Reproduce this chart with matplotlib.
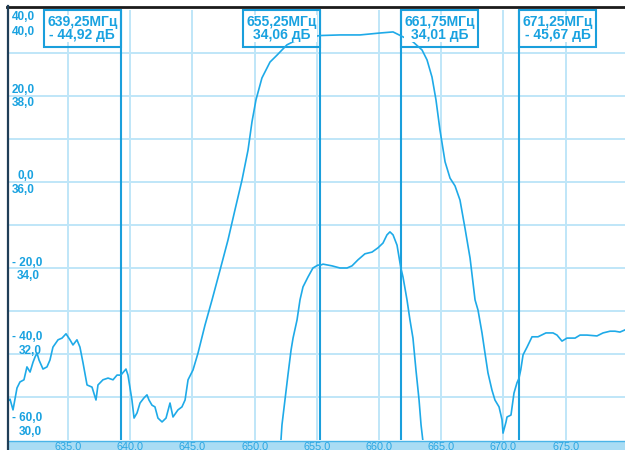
import matplotlib
matplotlib.use("Agg")
import matplotlib.pyplot as plt
import matplotlib.transforms as mtransforms
from matplotlib.patches import Rectangle
from matplotlib.lines import Line2D

# ---------------------------------------------------------------------------
# Measured data
# ---------------------------------------------------------------------------
# Wideband response, 10 dB/div (upper figures of the left scale)
wide_mhz = [630.26, 630.34, 630.58, 630.90, 631.14, 631.46, 631.70, 631.95, 632.19, 632.35,
            632.51, 632.67, 632.99, 633.31, 633.55, 633.79, 634.20, 634.52, 634.84, 635.16,
            635.40, 635.72, 635.96, 636.21, 636.53, 636.93, 637.25, 637.41, 637.81, 638.22,
            638.62, 638.94, 639.25, 639.66, 639.82, 640.14, 640.31, 640.55, 640.79, 641.11,
            641.35, 641.51, 641.75, 641.99, 642.23, 642.56, 642.88, 643.20, 643.44, 643.84,
            644.16, 644.41, 644.65, 645.05, 645.45, 646.01, 646.58, 647.22, 647.86, 648.42,
            648.99, 649.47, 649.79, 650.11, 650.59, 651.24, 651.80, 652.60, 653.09, 654.05,
            655.25, 656.86, 658.47, 660.08, 661.13, 661.75, 662.73, 663.46, 663.86, 664.26,
            664.58, 664.90, 665.31, 665.71, 666.11, 666.51, 666.91, 667.32, 667.72, 667.96,
            668.28, 668.52, 668.76, 669.08, 669.32, 669.65, 669.89, 669.97, 670.21, 670.29,
            670.61, 670.85, 671.09, 671.25, 671.40, 671.58, 671.90, 672.30, 672.78, 673.42,
            673.99, 674.31, 674.71, 675.11, 675.76, 676.16, 676.72, 677.52, 678.01, 678.57,
            678.97, 679.37, 679.77]
wide_db = [-50.7, -50.5, -53.0, -47.9, -46.5, -46.0, -43.0, -44.2, -41.9, -40.7,
           -39.8, -41.4, -43.5, -43.0, -41.4, -38.4, -36.7, -36.3, -35.3, -36.7,
           -37.9, -36.7, -38.4, -42.1, -47.2, -47.7, -50.7, -47.2, -46.0, -45.6,
           -46.0, -44.9, -44.92, -43.5, -44.9, -50.7, -54.9, -53.7, -51.4, -50.2,
           -49.5, -50.7, -51.9, -52.3, -54.9, -55.8, -54.9, -51.4, -54.65, -53.0,
           -52.3, -50.7, -46.0, -43.7, -39.8, -33.3, -27.4, -20.5, -13.5, -6.5,
           0.5, 7.4, 14.0, 19.1, 24.2, 27.9, 29.5, 31.9, 32.6, 33.5,
           34.06, 34.2, 34.2, 34.65, 34.9, 34.01, 32.6, 30.7, 28.4, 24.4,
           19.1, 12.1, 4.7, 0.9, -0.9, -4.2, -10.7, -17.7, -27.4, -29.8,
           -35.1, -39.8, -44.4, -48.4, -50.7, -52.3, -55.3, -58.4, -55.8, -54.65,
           -54.2, -49.1, -46.7, -45.67, -43.6, -40.2, -38.4, -36.0, -36.0, -35.1,
           -35.1, -35.6, -37.0, -36.3, -36.3, -35.6, -35.6, -35.8, -35.1, -34.7,
           -34.7, -34.9, -34.4]

# Passband detail, 1 dB/div (lower figures of the left scale)
pass_mhz = [652.04, 652.12, 652.20, 652.44, 652.68, 652.93, 653.09, 653.41, 653.65, 653.89,
            654.29, 654.69, 655.10, 655.25, 655.50, 656.22, 656.86, 657.43, 657.83, 658.31,
            658.87, 659.44, 659.92, 660.32, 660.64, 660.88, 661.13, 661.45, 661.75, 661.93,
            662.25, 662.49, 662.73, 662.97, 663.22, 663.38, 663.54]
pass_db = [29.95, 30.00, 30.35, 30.93, 31.51, 32.09, 32.37, 32.79, 33.26, 33.56,
           33.79, 34.00, 34.07, 34.06, 34.09, 34.05, 34.00, 34.00, 34.05, 34.19,
           34.33, 34.37, 34.47, 34.58, 34.77, 34.84, 34.77, 34.53, 34.01, 33.79,
           33.26, 32.79, 32.37, 31.63, 30.93, 30.35, 29.95]

# Markers: frequency (MHz) and level (dB)
marker_mhz = [639.25, 655.25, 661.75, 671.25]
marker_db = [-44.92, 34.06, 34.01, -45.67]
marker_box_side = ["left", "left", "right", "right"]

# Frequency axis
x_ticks = [635.0, 640.0, 645.0, 650.0, 655.0, 660.0, 665.0, 670.0, 675.0]
# Level scale: wideband figure / passband figure for every second division
wide_scale = ["40,0", "20,0", "0,0", "- 20,0", "- 40,0", "- 60,0"]
pass_scale = ["40,0", "38,0", "36,0", "34,0", "32,0", "30,0"]

# ---------------------------------------------------------------------------
# Styling
# ---------------------------------------------------------------------------
W, H, DPI = 625, 450, 100
TRACE = "#1eaae8"
MARK = "#1a9fdc"
TEXT = "#19a2e0"
GRID = "#bfe6f8"
BAND = "#a9dcf4"
FRAME = "#1f3e57"
FONT = "Liberation Sans"

plt.rcParams["font.family"] = [FONT, "DejaVu Sans"]

fig = plt.figure(figsize=(W / DPI, H / DPI), dpi=DPI, facecolor="white")

# plot area in pixels
L, T, PW, PH = 9, 10, 616, 430
ax = fig.add_axes([L / W, (H - T - PH) / H, PW / W, PH / H])
px_per_mhz = 12.44
xmin = 635.0 - (68 - L) / px_per_mhz
ax.set_xlim(xmin, xmin + PW / px_per_mhz)
ax.set_ylim(-60, 40)

ax2 = ax.twinx()
ax2.set_ylim(30, 40)

for a in (ax, ax2):
    a.set_xticks([])
    a.set_yticks([])
    for s in a.spines.values():
        s.set_visible(False)
ax.set_facecolor("white")
ax2.patch.set_visible(False)

# grid
for xv in x_ticks:
    ax.axvline(xv, color=GRID, lw=1.4, zorder=1)
for yv in range(-50, 40, 10):
    ax.axhline(yv, color=GRID, lw=1.4, zorder=1)

# marker lines
for m in marker_mhz:
    ax.axvline(m, color=MARK, lw=1.5, zorder=2)

# traces
ax.plot(wide_mhz, wide_db, color=TRACE, lw=1.2, zorder=4, solid_joinstyle="round")
ax2.plot(pass_mhz, pass_db, color=TRACE, lw=1.2, zorder=4, solid_joinstyle="round")

# marker readout boxes
box_w = 77 / px_per_mhz
box_top, box_bot = 1.0, 1.0 - 37 / PH
trans_box = mtransforms.blended_transform_factory(ax.transData, ax.transAxes)


def fmt_db(v):
    s = f"{abs(v):.2f}".replace(".", ",") + " дБ"
    return ("- " + s) if v < 0 else s


for m, v, side in zip(marker_mhz, marker_db, marker_box_side):
    x0 = m - box_w if side == "left" else m
    ax.add_patch(Rectangle((x0, box_bot), box_w, box_top - box_bot, transform=trans_box,
                           fill=False, edgecolor=MARK, lw=1.5, zorder=3, clip_on=False))
    cx = x0 + box_w / 2
    readout = f"{m:.2f}".replace(".", ",") + "МГц\n" + fmt_db(v)
    ax.text(cx, 1.0 - 29.5 / PH, readout, transform=trans_box, ha="center",
            va="baseline", multialignment="center", linespacing=0.92, color=TEXT,
            fontsize=10, fontweight="bold", zorder=6,
            bbox=dict(facecolor="white", edgecolor="none", pad=0.0))

# level scale labels (pixel positions of each pair)
scale_y = [(17.5, 32), (90, 103), (176, 190), (263, 276), (337, 351), (418, 432)]
wide_x = [12, 12, 18, 12, 12, 12]
pass_x = [12, 12, 12, 17, 19, 19]
for i in range(len(wide_scale)):
    ya, yb = scale_y[i]
    fig.text(wide_x[i] / W, (H - ya) / H, wide_scale[i], ha="left", va="center",
             color=TEXT, fontsize=8.5, fontweight="bold", zorder=7)
    fig.text(pass_x[i] / W, (H - yb) / H, pass_scale[i], ha="left", va="center",
             color=TEXT, fontsize=8.5, fontweight="bold", zorder=7)

# frequency band at the bottom
fig.add_artist(Rectangle((L / W, 0), PW / W, 9 / H, transform=fig.transFigure,
                         facecolor=BAND, edgecolor="none", zorder=1))
fig.add_artist(Line2D([L / W, 1], [9 / H, 9 / H], transform=fig.transFigure,
                      color="#4ab4e8", lw=1.0, zorder=2))
trans_band = mtransforms.blended_transform_factory(ax.transData, fig.transFigure)
for xv in x_ticks:
    fig.text(xv, 3.5 / H, f"{xv:.1f}".replace(".", ","), transform=trans_band,
             ha="center", va="center", color="#2aa6e2", fontsize=7.8, zorder=8)

# frame: dark top rule and left border
fig.add_artist(Line2D([7 / W, 1], [(H - 6.5) / H, (H - 6.5) / H], transform=fig.transFigure,
                      color="#1b1b1b", lw=2.0, zorder=9))
fig.add_artist(Line2D([8 / W, 8 / W], [0, (H - 6) / H], transform=fig.transFigure,
                      color=FRAME, lw=1.6, zorder=9))

fig.savefig("out.png", dpi=DPI, facecolor="white")
